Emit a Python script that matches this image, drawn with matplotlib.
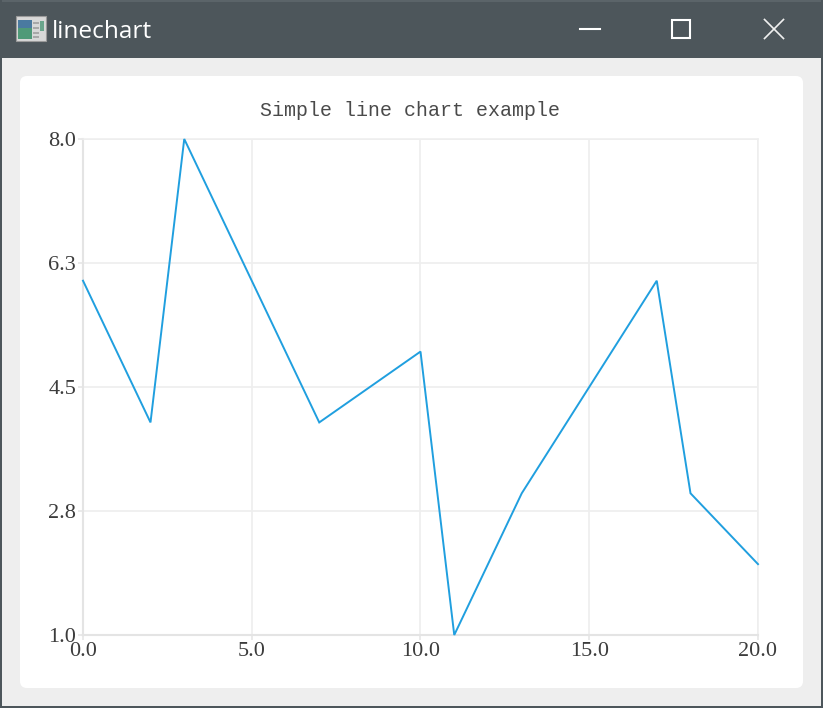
import matplotlib
matplotlib.use('Agg')
import matplotlib.pyplot as plt
from matplotlib.patches import Rectangle, FancyBboxPatch
from matplotlib.lines import Line2D

W, H = 823, 708

# podaci
x = [0, 2, 3, 7, 10, 11, 13, 17, 18, 20]
y = [6, 4, 8, 4, 5, 1, 3, 6, 3, 2]
xticks = [0, 5, 10, 15, 20]
xlabels = ['0.0', '5.0', '10.0', '15.0', '20.0']
yticks = [1, 2.75, 4.5, 6.25, 8]
ylabels = ['1.0', '2.8', '4.5', '6.3', '8.0']

fig = plt.figure(figsize=(W/100, H/100), dpi=100, facecolor='#eeeeee')

# pozadina u pikselima, y ide odozgo
bg = fig.add_axes([0, 0, 1, 1], zorder=0)
bg.set_xlim(0, W)
bg.set_ylim(H, 0)
bg.axis('off')

bg.add_patch(Rectangle((0, 0), W, 58, fc='#4d565b', ec='none'))
bg.add_patch(Rectangle((0, 0), W, 2, fc='#5b6469', ec='none'))
bg.add_patch(Rectangle((0, 0), 2, H, fc='#4d565b', ec='none'))
bg.add_patch(Rectangle((821, 0), 2, H, fc='#4d565b', ec='none'))
bg.add_patch(Rectangle((0, 706), W, 2, fc='#4d565b', ec='none'))
bg.add_patch(FancyBboxPatch((25, 81), 773, 602, boxstyle='round,pad=5,rounding_size=7',
                            fc='white', ec='none'))

# ikonica prozora
bg.add_patch(Rectangle((16, 16), 30, 25, fc='#d8d8d8', ec='#9a9a9a', lw=0.8))
bg.add_patch(Rectangle((18, 20), 14, 19, fc='#4f9a78', ec='none'))
bg.add_patch(Rectangle((18, 20), 14, 8, fc='#4a7aa0', ec='none'))
bg.add_patch(Rectangle((40, 21), 4, 10, fc='#6aa58c', ec='none'))
for yy in (22, 27, 32, 36):
    bg.add_patch(Rectangle((33, yy), 6, 1.5, fc='#a8a8a8', ec='none'))

bg.text(52, 29, 'linechart', color='white', fontsize=17.6, family='Open Sans',
        ha='left', va='center_baseline')

# dugmad na naslovnoj traci
bg.add_line(Line2D([580, 600], [29, 29], color='white', lw=1.5))
bg.add_patch(Rectangle((672, 20), 18, 18, fc='none', ec='white', lw=1.5))
bg.add_line(Line2D([764.5, 783.5], [19.5, 38.5], color='#f0f0f0', lw=1.2))
bg.add_line(Line2D([764.5, 783.5], [38.5, 19.5], color='#f0f0f0', lw=1.2))

bg.text(410.5, 111, 'Simple line chart example', color='#4a4a4a', fontsize=14.4,
        family='Liberation Mono', ha='center', va='center')

# grafik
ax = fig.add_axes([83/W, 1 - 635/H, (758-83)/W, (635-139)/H], zorder=1)
ax.patch.set_alpha(0)
ax.plot(x, y, color='#209fdf', lw=1.4, clip_on=False, solid_joinstyle='miter', zorder=3)
ax.set_xlim(0, 20)
ax.set_ylim(1, 8)
ax.set_xticks(xticks, xlabels)
ax.set_yticks(yticks, ylabels)
ax.grid(True, color='#eeeeee', lw=1.2)
ax.set_axisbelow(True)
ax.tick_params(axis='both', color='#e6e6e6', width=1.2, length=3.5, labelcolor='#3c3c3c',
               labelsize=16, pad=1.5)
for lab in ax.get_xticklabels() + ax.get_yticklabels():
    lab.set_family('Liberation Serif')
for s in ['top', 'right']:
    ax.spines[s].set_color('#eeeeee')
    ax.spines[s].set_linewidth(1.1)
for s in ['left', 'bottom']:
    ax.spines[s].set_color('#e4e4e4')
    ax.spines[s].set_linewidth(1.5)

fig.savefig('out.png', dpi=100, facecolor=fig.get_facecolor())
